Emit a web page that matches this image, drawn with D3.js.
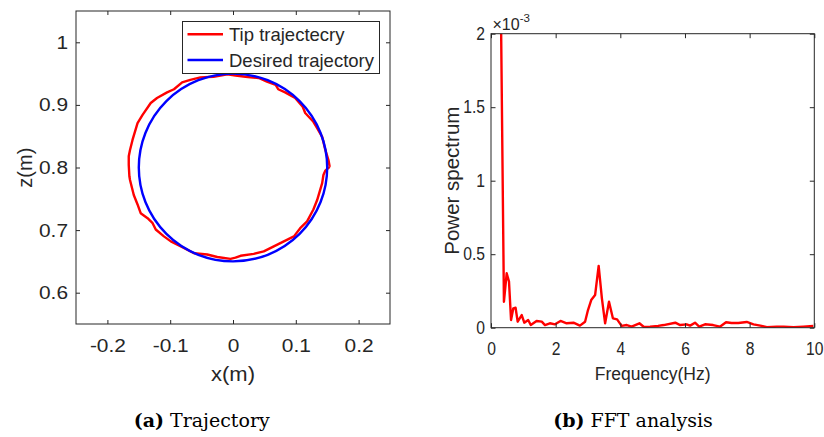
<!DOCTYPE html>
<html>
<head>
<meta charset="utf-8">
<script src="https://cdn.jsdelivr.net/npm/d3@7"></script>
<style>
	body { margin: 0; background: #fff; }
	svg { display: block; }
</style>
</head>
<body>
<div id="js_chart"></div>
<script>
/*globals d3*/
'use strict';

// (a) trajectory data
const tipX = [0.154, 0.152, 0.147, 0.142, 0.134, 0.128, 0.115, 0.111, 0.099, 0.083, 0.072, 0.068, 0.054, 0.041, 0.028, 0.020, 0.004, -0.009,
	-0.031, -0.052, -0.068, -0.081, -0.094, -0.105, -0.121, -0.131, -0.144, -0.152, -0.160, -0.164, -0.166, -0.166, -0.165, -0.164,
	-0.158, -0.152, -0.147, -0.136, -0.128, -0.123, -0.110, -0.099, -0.083, -0.062, -0.041, -0.025, -0.004, 0.004, 0.012, 0.033,
	0.049, 0.065, 0.081, 0.097, 0.107, 0.118, 0.128, 0.134, 0.142, 0.144, 0.147, 0.154];
const tipZ = [0.801, 0.812, 0.828, 0.849, 0.863, 0.873, 0.887, 0.897, 0.911, 0.920, 0.925, 0.932, 0.937, 0.943, 0.944, 0.945, 0.947, 0.949,
	0.945, 0.944, 0.940, 0.936, 0.925, 0.920, 0.911, 0.903, 0.884, 0.871, 0.844, 0.828, 0.818, 0.804, 0.786, 0.780,
	0.756, 0.741, 0.727, 0.719, 0.711, 0.701, 0.690, 0.682, 0.674, 0.663, 0.661, 0.657, 0.654, 0.656, 0.659, 0.662,
	0.666, 0.674, 0.682, 0.690, 0.703, 0.714, 0.733, 0.748, 0.775, 0.788, 0.795, 0.801];
const desiredCenter = [0, 0.8];
const desiredRadius = [0.15];
const trajXTicks = [-0.2, -0.1, 0, 0.1, 0.2];
const trajXLabels = ['-0.2', '-0.1', '0', '0.1', '0.2'];
const trajZTicks = [0.6, 0.7, 0.8, 0.9, 1];
const trajZLabels = ['0.6', '0.7', '0.8', '0.9', '1'];
const legendNames = ['Tip trajectecry', 'Desired trajectory'];

// (b) FFT data, power in units of 1e-3
const freq = [0.30, 0.40, 0.485, 0.557, 0.62, 0.69, 0.76, 0.825, 0.95, 1.03, 1.15, 1.23, 1.41, 1.57, 1.67, 1.82, 1.98,
	2.15, 2.34, 2.55, 2.75, 2.91, 3.0, 3.1, 3.22, 3.33, 3.43, 3.53, 3.65, 3.77, 3.9, 4.04, 4.2, 4.35, 4.59, 4.73, 4.92,
	5.17, 5.34, 5.7, 5.85, 6.05, 6.16, 6.31, 6.44, 6.62, 6.87, 7.08, 7.27, 7.44, 7.65, 7.91, 8.12, 8.33, 8.53, 8.84,
	9.05, 9.36, 9.66, 9.97];
const power = [2.3, 0.177, 0.37, 0.313, 0.052, 0.132, 0.136, 0.041, 0.086, 0.034, 0.052, 0.018, 0.046, 0.041, 0.018, 0.030, 0.023,
	0.046, 0.030, 0.034, 0.014, 0.041, 0.12, 0.188, 0.222, 0.42, 0.2, 0.03, 0.177, 0.064, 0.057, 0.012, 0.018, 0.007, 0.030, 0.005, 0.007,
	0.012, 0.018, 0.034, 0.018, 0.023, 0.014, 0.034, 0.007, 0.023, 0.018, 0.007, 0.037, 0.032, 0.032, 0.039, 0.023, 0.014, 0.003, 0.007,
	0.007, 0.003, 0.007, 0.012];
const fftXTicks = [0, 2, 4, 6, 8, 10];
const fftXLabels = ['0', '2', '4', '6', '8', '10'];
const fftYTicks = [0, 0.5, 1, 1.5, 2];
const fftYLabels = ['0', '0.5', '1', '1.5', '2'];

const axisColor = '#262626';
const sansFont = '"Liberation Sans", Arial, Helvetica, sans-serif';
const serifFont = '"DejaVu Serif", serif';
const red = '#ff0000';
const blue = '#0000ff';
const lineW = 2.4;

const svg = d3.select('#js_chart').append('svg')
	.attr('width', 824)
	.attr('height', 437);

function styleAxis(g, fontSize, stretch) {
	g.select('.domain').remove();
	g.selectAll('line').attr('stroke', axisColor);
	g.attr('font-family', sansFont).attr('font-size', fontSize);
	g.selectAll('text').attr('fill', axisColor);
	if (stretch) {
		g.selectAll('text').each(function () {
			const t = d3.select(this);
			t.attr('x', (+t.attr('x') || 0) / stretch)
				.attr('transform', 'scale(' + stretch + ',1)');
		});
	}
}

function drawFrame(x, y, xTicks, xLabels, yTicks, yLabels, opt) {
	const [x0, x1] = x.range();
	const [y0, y1] = y.range();
	const tick = opt.tick;
	svg.append('g').attr('transform', 'translate(0,' + y0 + ')')
		.call(d3.axisBottom(x).tickValues(xTicks).tickFormat((d, i) => xLabels[i])
			.tickSizeInner(-tick).tickSizeOuter(0).tickPadding(opt.xPad))
		.call(g => styleAxis(g, opt.fontSize, opt.stretch));
	svg.append('g').attr('transform', 'translate(' + x0 + ',0)')
		.call(d3.axisLeft(y).tickValues(yTicks).tickFormat((d, i) => yLabels[i])
			.tickSizeInner(-tick).tickSizeOuter(0).tickPadding(opt.yPad))
		.call(g => styleAxis(g, opt.fontSize, opt.stretch));
	svg.append('g').attr('transform', 'translate(0,' + y1 + ')')
		.call(d3.axisTop(x).tickValues(xTicks).tickFormat('').tickSizeInner(-tick).tickSizeOuter(0))
		.call(g => styleAxis(g, opt.fontSize));
	svg.append('g').attr('transform', 'translate(' + x1 + ',0)')
		.call(d3.axisRight(y).tickValues(yTicks).tickFormat('').tickSizeInner(-tick).tickSizeOuter(0))
		.call(g => styleAxis(g, opt.fontSize));
	svg.append('rect')
		.attr('x', x0).attr('y', y1)
		.attr('width', x1 - x0).attr('height', y0 - y1)
		.attr('fill', 'none')
		.attr('stroke', axisColor)
		.attr('stroke-width', 1);
}

function addText(txt, px, py, size, opt) {
	const t = svg.append('text')
		.attr('font-family', opt && opt.family ? opt.family : sansFont)
		.attr('font-size', size)
		.attr('fill', opt && opt.fill ? opt.fill : axisColor)
		.attr('text-anchor', opt && opt.anchor ? opt.anchor : 'middle')
		.attr('transform', 'translate(' + px + ',' + py + ')' + (opt && opt.rotate ? ' rotate(' + opt.rotate + ')' : ''))
		.text(txt);
	return t;
}

// ---------- (a) Trajectory ----------
const xA = d3.scaleLinear().domain([-0.25, 0.25]).range([76, 390]);
const yA = d3.scaleLinear().domain([0.55, 1.05]).range([324, 11]);

svg.append('clipPath').attr('id', 'clipA')
	.append('rect').attr('x', 76).attr('y', 11).attr('width', 314).attr('height', 313);

const gA = svg.append('g').attr('clip-path', 'url(#clipA)');
gA.append('path')
	.datum(d3.range(tipX.length))
	.attr('d', d3.line().x(i => xA(tipX[i])).y(i => yA(tipZ[i])))
	.attr('fill', 'none')
	.attr('stroke', red)
	.attr('stroke-width', lineW)
	.attr('stroke-linejoin', 'round');
gA.append('ellipse')
	.attr('cx', xA(desiredCenter[0]))
	.attr('cy', yA(desiredCenter[1]))
	.attr('rx', xA(desiredCenter[0] + desiredRadius[0]) - xA(desiredCenter[0]))
	.attr('ry', yA(desiredCenter[1]) - yA(desiredCenter[1] + desiredRadius[0]))
	.attr('fill', 'none')
	.attr('stroke', blue)
	.attr('stroke-width', lineW);

drawFrame(xA, yA, trajXTicks, trajXLabels, trajZTicks, trajZLabels,
	{ tick: 4, xPad: 15, yPad: 8, fontSize: 19, stretch: 1.1 });

addText('x(m)', xA(0), 381, 20).attr('transform', 'translate(' + xA(0) + ',381) scale(1.1,1)');
addText('z(m)', 32, 167.7, 20, { rotate: -90 });

// legend
const legend = svg.append('g').attr('transform', 'translate(182.5,21.5)');
legend.append('rect')
	.attr('width', 197).attr('height', 52)
	.attr('fill', '#fff')
	.attr('stroke', axisColor)
	.attr('stroke-width', 1);
const legendColors = [red, blue];
legendNames.forEach(function (name, i) {
	const cy = 12.8 + i * 25.7;
	legend.append('line')
		.attr('x1', 5).attr('x2', 40.5)
		.attr('y1', cy).attr('y2', cy)
		.attr('stroke', legendColors[i])
		.attr('stroke-width', lineW);
	legend.append('text')
		.attr('x', 46.5).attr('y', cy + 6.6)
		.attr('font-family', sansFont)
		.attr('font-size', 18.5)
		.attr('fill', axisColor)
		.text(name);
});

// ---------- (b) FFT analysis ----------
const xB = d3.scaleLinear().domain([0, 10]).range([491, 814.3]);
const yB = d3.scaleLinear().domain([0, 2]).range([327.7, 33.7]);

svg.append('clipPath').attr('id', 'clipB')
	.append('rect').attr('x', 491).attr('y', 33.7).attr('width', 323.3).attr('height', 294);

svg.append('g').attr('clip-path', 'url(#clipB)')
	.append('path')
	.datum(d3.range(freq.length))
	.attr('d', d3.line().x(i => xB(freq[i])).y(i => yB(power[i])))
	.attr('fill', 'none')
	.attr('stroke', red)
	.attr('stroke-width', lineW)
	.attr('stroke-linejoin', 'round');

drawFrame(xB, yB, fftXTicks, fftXLabels, fftYTicks, fftYLabels,
	{ tick: 4.5, xPad: 14.5, yPad: 6, fontSize: 18, stretch: 0.87 });

addText('Frequency(Hz)', 652.7, 380, 17.5);
addText('Power spectrum', 459, 180.7, 20.5, { rotate: -90 });

const expo = svg.append('text')
	.attr('x', 492.5).attr('y', 30)
	.attr('font-family', sansFont)
	.attr('font-size', 16)
	.attr('fill', axisColor);
expo.append('tspan').text('\u00d710');
expo.append('tspan').attr('dy', -8).attr('font-size', 11.5).text('-3');

// ---------- captions ----------
function caption(tag, txt, px) {
	const t = addText('', px, 427, 19, { family: serifFont, fill: '#000' });
	t.append('tspan').attr('font-weight', 'bold').text(tag);
	t.append('tspan').text(' ' + txt);
}
caption('(a)', 'Trajectory', 201.7);
caption('(b)', 'FFT analysis', 633);
</script>
</body>
</html>
